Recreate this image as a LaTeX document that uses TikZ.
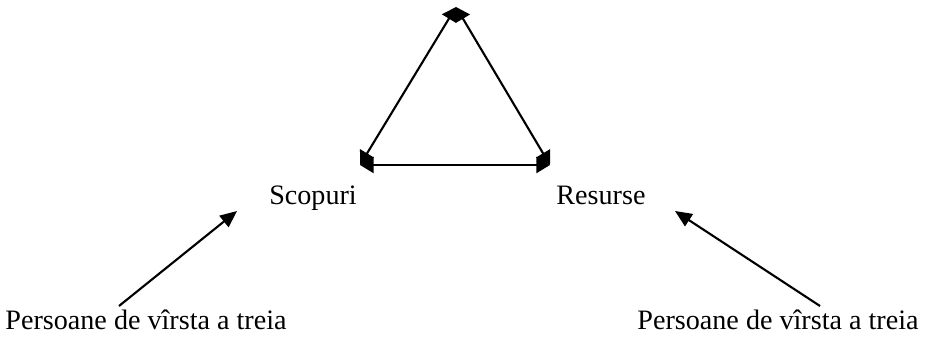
\documentclass[tikz,border=0pt]{standalone}
\usepackage{fontspec}
\setmainfont{Liberation Serif}
\usetikzlibrary{arrows.meta}

\tikzset{
side/.style={line width=1.5pt,{Triangle[length=0.34cm,width=0.4cm]}-{Triangle[length=0.34cm,width=0.4cm]}},
push/.style={line width=1.5pt,-{Triangle[length=0.42cm,width=0.36cm]}},
lbl/.style={font=\fontsize{20}{24}\selectfont,inner sep=0pt,anchor=base}
}

\begin{document}
\begin{tikzpicture}[x=0.025cm,y=-0.025cm]
\useasboundingbox (0,0) rectangle (932,336);
\coordinate (top) at (456,7);
\coordinate (left) at (360,165);
\coordinate (right) at (550,165);
\draw[side] (top) -- (left);
\draw[side] (top) -- (right);
\draw[side] (left) -- (right);

\node[lbl] (scop) at (313,204) {Scopuri};
\node[lbl] (res) at (601,204) {Resurse};
\node[lbl] (pers1) at (146,329) {Persoane de vîrsta a treia};
\node[lbl] (pers2) at (778,329) {Persoane de vîrsta a treia};

\coordinate (tail1) at (119,306);
\coordinate (tip1) at (237,211);
\coordinate (tail2) at (820,306);
\coordinate (tip2) at (675,211);
\draw[push] (tail1) -- (tip1);
\draw[push] (tail2) -- (tip2);
\end{tikzpicture}
\end{document}
